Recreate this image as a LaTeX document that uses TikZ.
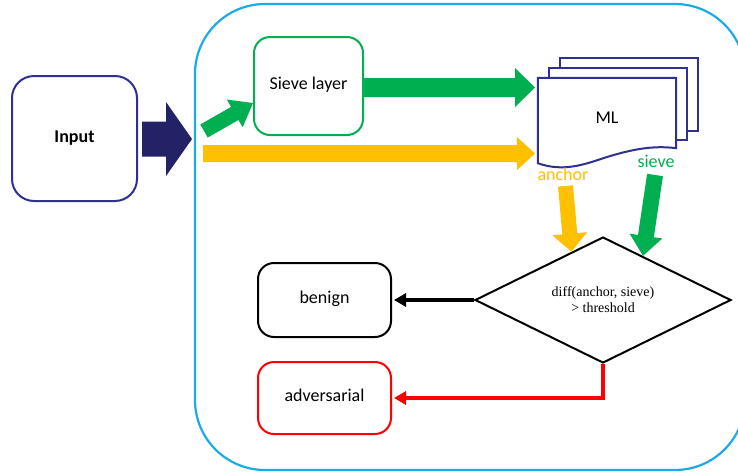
\documentclass[tikz,border=0pt]{standalone}
\usepackage{fontspec}
\setmainfont{Carlito}
\newfontfamily\serifdia{Liberation Serif}
\usetikzlibrary{calc,shapes.geometric,arrows.meta}
\definecolor{navyline}{RGB}{46,49,146}
\definecolor{navyfill}{RGB}{35,34,102}
\definecolor{skyb}{RGB}{27,172,232}
\definecolor{gr}{RGB}{0,176,80}
\definecolor{yl}{RGB}{255,192,0}
\definecolor{rd}{RGB}{255,0,0}
\newcommand\blockarrow[6]{%
  \path ($(#2)!#5!(#1)$) coordinate (ba-h);
  \fill[#6] ($(#1)!#3!90:(#2)$) -- ($(ba-h)!#3!-90:(#1)$) -- ($(ba-h)!#4!-90:(#1)$) -- (#2)
    -- ($(ba-h)!#4!90:(#1)$) -- ($(ba-h)!#3!90:(#1)$) -- ($(#1)!#3!-90:(#2)$) -- cycle;}
\tikzset{
  box/.style={draw, line width=2pt, rounded corners=16pt, fill=white, inner sep=0pt,
    text height=0.78em, text depth=0.06em, font=\fontsize{18}{21}\selectfont},
  lbl/.style={inner sep=0pt, text height=0.78em, text depth=0.06em, font=\fontsize{18}{21}\selectfont},
  docline/.style={draw=navyline, line width=2pt, fill=white},
}
\begin{document}
\begin{tikzpicture}[x=1pt,y=-1pt]
\useasboundingbox (0,0) rectangle (738,472);
\clip (0,0) rectangle (738,472);
\fill[white] (0,0) rectangle (738,472);
% outer container
\draw[skyb, line width=2.2pt, rounded corners=70pt] (195,4) rectangle (745,470);
% input
\node[box, draw=navyline, rounded corners=22pt, minimum width=125pt, minimum height=125pt,
  font=\fontsize{18}{21}\selectfont\bfseries] (in) at (74.5,138.5) {Input};
% sieve layer
\node[box, draw=gr, minimum width=109pt, minimum height=98pt] (sl) at (308.5,86) {Sieve layer};
% ML documents
\draw[docline] (560,58) rectangle (698,131);
\draw[docline] (549,68) rectangle (687,140);
\node[lbl, minimum width=138pt, minimum height=85pt] (ml) at (607,120.5) {};
\draw[docline, line join=miter] (ml.north west) -- (ml.north east) -- ([yshift=15pt]ml.south east)
  .. controls (652,145) and (630,150) .. (607,157)
  .. controls (588,163) and (565,173) .. (ml.south west) -- cycle;
\node[lbl] (mltext) at (607,120) {ML};
\node[lbl, text=yl] (anch) at (563,177) {anchor};
\node[lbl, text=gr] (sv) at (656,164) {sieve};
% decision
\node[draw, line width=2pt, shape=diamond, aspect=2.03, minimum width=256pt, minimum height=126pt,
  inner sep=0pt, align=center, font=\serifdia\fontsize{14}{16}\selectfont] (dia) at (603,300)
  {diff(anchor, sieve)\\ \textgreater{} threshold};
\node[box, draw=black, minimum width=133pt, minimum height=74pt] (ben) at (324.5,300) {benign};
\node[box, draw=rd, minimum width=133pt, minimum height=72pt] (adv) at (324.5,398) {adversarial};
% arrow end points
\coordinate (nv1) at (142,139);
\coordinate (nv2) at (192,139);
\coordinate (gd1) at (204,131);
\coordinate (gd2) at (253,103);
\coordinate (y1) at (203,153.5);
\coordinate (y2) at (535,153.5);
\coordinate (g1) at (364,87.5);
\coordinate (g2) at (535,87.5);
\coordinate (yd1) at (565.5,186);
\coordinate (yd2) at ($(dia.north)!0.245!(dia.west)$);
\coordinate (gv1) at (655,175);
\coordinate (gv2) at ($(dia.north)!0.31!(dia.east)$);
% block arrows
\blockarrow{nv1}{nv2}{17.5pt}{37pt}{26pt}{navyfill}
\blockarrow{gd1}{gd2}{7.5pt}{16pt}{21pt}{gr}
\blockarrow{y1}{y2}{8.5pt}{16.5pt}{18pt}{yl}
\blockarrow{g1}{g2}{9.5pt}{19.5pt}{20pt}{gr}
\blockarrow{yd1}{yd2}{7.5pt}{17.5pt}{18pt}{yl}
\blockarrow{gv1}{gv2}{8pt}{16.5pt}{20pt}{gr}
% decision outputs
\draw[line width=4pt, -{Triangle[length=12pt,width=13pt]}] (dia.west) -- ([xshift=2pt]ben.east);
\draw[rd, line width=4pt, -{Triangle[length=12pt,width=13pt]}] (dia.south) |- ([xshift=2pt]adv.east);
\end{tikzpicture}
\end{document}
